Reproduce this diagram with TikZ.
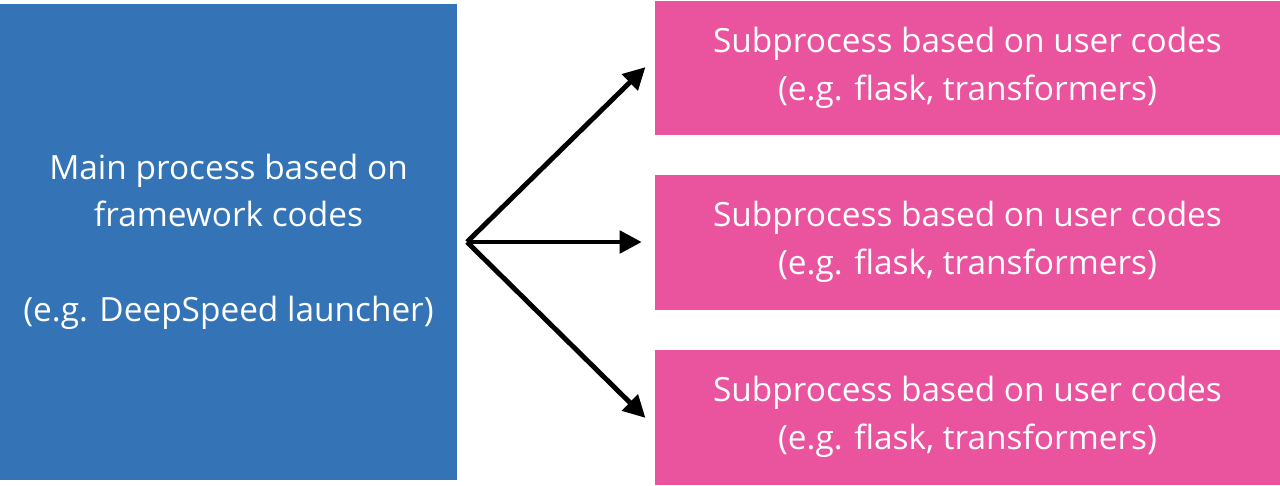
\documentclass[tikz,border=0pt]{standalone}
\usepackage{fontspec}
\setmainfont{Open Sans}
\usepackage{tikz}
\usetikzlibrary{arrows.meta}

\definecolor{mainblue}{RGB}{52,116,182}
\definecolor{subpink}{RGB}{234,83,157}

\begin{document}
\begin{tikzpicture}[x=0.02cm,y=-0.02cm,
	mainbox/.style={fill=mainblue,text=white,minimum width=9.14cm,minimum height=9.52cm,
		align=center,inner sep=0pt,font=\fontsize{19}{27}\selectfont},
	subbox/.style={fill=subpink,text=white,minimum width=12.5cm,minimum height=2.7cm,
		align=center,inner sep=0pt,font=\fontsize{19}{27}\selectfont},
	spawn/.style={line width=2.8pt,-{Triangle[length=0.44cm,width=0.44cm]},shorten >=0.26cm}]
	\useasboundingbox (0,0) rectangle (1280,485);
	\node[mainbox] (main) at (228.5,242) {Main process based on\\framework codes\\[27pt](e.g. DeepSpeed launcher)};
	\node[subbox] (sub1) at (967.5,68) {Subprocess based on user codes\\(e.g. flask, transformers)};
	\node[subbox] (sub2) at (967.5,242) {Subprocess based on user codes\\(e.g. flask, transformers)};
	\node[subbox] (sub3) at (967.5,417) {Subprocess based on user codes\\(e.g. flask, transformers)};
	\coordinate (fork) at (467,242);
	\draw[spawn] (fork) -- ([yshift=0.2cm]sub1.west);  % upper branch
	\draw[spawn] (fork) -- (sub2.west);
	\draw[spawn] (fork) -- ([yshift=-0.2cm]sub3.west);  % lower branch
\end{tikzpicture}
\end{document}
